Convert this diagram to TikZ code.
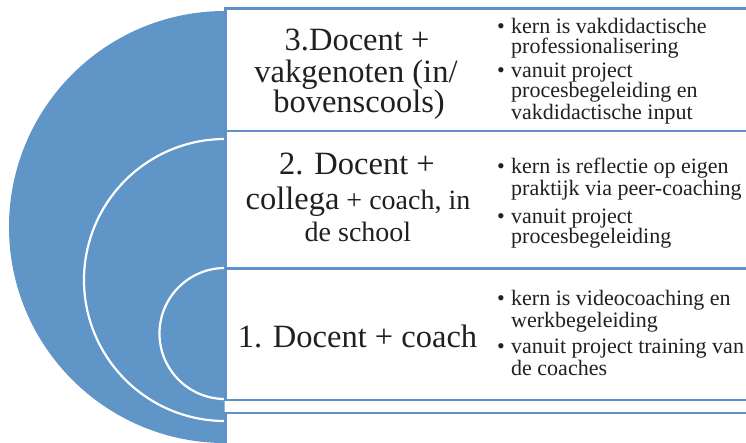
\documentclass[tikz,border=0pt]{standalone}
\usepackage{fontspec}
\setmainfont{Liberation Serif}
\definecolor{discblue}{RGB}{96,149,200}
\definecolor{lineblue}{RGB}{95,145,201}
\definecolor{txt}{RGB}{35,31,32}
\newcommand{\smallt}{\fontsize{28}{28}\selectfont}
\begin{document}
\begin{tikzpicture}[x=1pt,y=-1pt,
  title/.style={font=\fontsize{32.5}{32.5}\selectfont, text=txt, inner sep=0pt, anchor=base},
  bul/.style={font=\fontsize{22}{20}\selectfont, text=txt, inner sep=0pt, anchor=base west, align=left},
  boxline/.style={draw=lineblue, line width=2.5pt},
  arcline/.style={draw=white, line width=2.2pt}]
\useasboundingbox (0,0) rectangle (746,442);
\clip (0,0) rectangle (746,442);
% half discs
\begin{scope}
  \clip (0,0) rectangle (224.5,442);
  \fill[discblue] (225,227) circle[radius=216];
  \draw[arcline] (225,280) circle[radius=141];
  \draw[arcline] (225,333.5) circle[radius=65.5];
\end{scope}
% boxes
\draw[boxline] (225.5,8.5) rectangle (760,131);
\draw[boxline] (225.5,131) rectangle (760,268.5);
\draw[boxline] (225.5,268.5) rectangle (760,400);
\draw[boxline] (225.5,413) rectangle (760,470);
% titles
\node[title] (t3a) at (357,50) {3.Docent +};
\node[title] (t3b) at (356,82) {vakgenoten (in/};
\node[title] (t3c) at (359,112) {bovenscools)};
\node[title] (t2a) at (357,174) {2. Docent +};
\node[title] (t2b) at (358,209) {collega{\smallt\ + coach, in}};
\node[title, font=\smallt] (t2c) at (358,241) {de school};
\node[title] (t1) at (357.5,347) {1. Docent + coach};
% bullets (base anchor = baseline of the last line)
\newcommand{\bl}{\llap{\textbullet\hspace{6.5pt}}}
\node[bul] (b3a) at (511,53) {\bl kern is vakdidactische\\professionalisering};
\node[bul] (b3b) at (511,119) {\bl vanuit project\\procesbegeleiding en\\vakdidactische input};
\node[bul] (b2a) at (511,195) {\bl kern is reflectie op eigen\\praktijk via peer-coaching};
\node[bul] (b2b) at (511,243) {\bl vanuit project\\procesbegeleiding};
\node[bul] (b1a) at (511,327) {\bl kern is videocoaching en\\werkbegeleiding};
\node[bul] (b1b) at (511,375) {\bl vanuit project training van\\de coaches};
\end{tikzpicture}
\end{document}
